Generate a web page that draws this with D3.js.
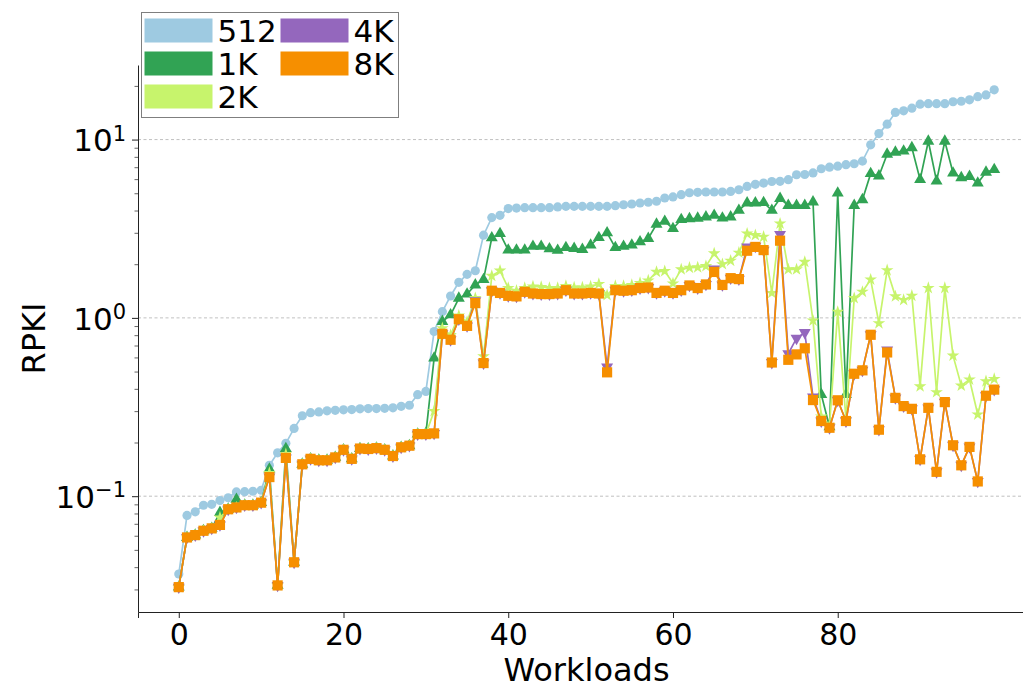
<!DOCTYPE html>
<html>
<head>
<meta charset="utf-8">
<script src="https://cdn.jsdelivr.net/npm/d3@7"></script>
<style>
  body { margin: 0; background: #fff; }
  svg text { font-family: "DejaVu Sans", sans-serif; fill: #000; }
</style>
</head>
<body>
<div id="chart"></div>
<script>
// values (RPKI per workload, log scale)
const workloads = d3.range(100);

const seriesNames = ["512", "1K", "2K", "4K", "8K"];
const seriesColors = ["#9ecae1", "#31a354", "#c7f46c", "#9467bd", "#f68f00"];

const rpki512 = [
  0.0366, 0.078, 0.0817, 0.089, 0.090, 0.0946, 0.098, 0.1057, 0.106, 0.1066,
  0.108, 0.149, 0.175, 0.198, 0.240, 0.2825, 0.294, 0.297, 0.301, 0.303,
  0.305, 0.306, 0.309, 0.310, 0.310, 0.311, 0.313, 0.319, 0.3235, 0.371,
  0.387, 0.839, 1.084, 1.327, 1.582, 1.754, 1.838, 2.91, 3.65, 3.76,
  4.10, 4.13, 4.15, 4.15, 4.15, 4.15, 4.19, 4.22, 4.22, 4.22,
  4.22, 4.22, 4.22, 4.26, 4.31, 4.35, 4.41, 4.45, 4.51, 4.70,
  4.77, 4.91, 5.03, 5.06, 5.08, 5.08, 5.08, 5.12, 5.23, 5.46,
  5.61, 5.70, 5.82, 5.83, 5.96, 6.35, 6.37, 6.50, 6.86, 7.00,
  7.09, 7.23, 7.32, 7.57, 9.34, 10.8, 12.2, 14.2, 14.5, 15.0,
  15.8, 15.9, 15.9, 15.9, 16.3, 16.4, 16.7, 17.4, 17.8, 19.0
];

const rpki1K = [
  0.0309, 0.0587, 0.0605, 0.064, 0.066, 0.081, 0.0845, 0.096, 0.089, 0.089,
  0.092, 0.142, 0.0316, 0.185, 0.0426, 0.151, 0.162, 0.159, 0.159, 0.165,
  0.182, 0.162, 0.185, 0.184, 0.186, 0.182, 0.168, 0.188, 0.192, 0.223,
  0.225, 0.595, 0.954, 1.039, 1.288, 1.36, 1.53, 1.64, 2.81, 2.97,
  2.40, 2.40, 2.40, 2.52, 2.52, 2.44, 2.39, 2.48, 2.45, 2.42,
  2.56, 2.82, 3.00, 2.48, 2.52, 2.56, 2.67, 2.79, 3.35, 3.48,
  3.17, 3.56, 3.60, 3.62, 3.68, 3.76, 3.63, 3.68, 4.01, 4.41,
  4.41, 4.43, 4.01, 4.67, 4.27, 4.27, 4.27, 4.47, 0.372, 0.245,
  5.01, 0.372, 4.27, 4.60, 6.44, 6.25, 8.28, 8.49, 8.61, 9.00,
  5.96, 9.79, 5.85, 9.79, 6.49, 6.11, 6.21, 5.70, 6.56, 6.78
];

const rpki2K = [
  0.0309, 0.0587, 0.0605, 0.064, 0.066, 0.076, 0.0845, 0.0865, 0.089, 0.089,
  0.092, 0.135, 0.0316, 0.172, 0.0426, 0.151, 0.162, 0.159, 0.159, 0.165,
  0.182, 0.162, 0.185, 0.184, 0.186, 0.182, 0.168, 0.188, 0.192, 0.223,
  0.223, 0.30, 0.875, 0.80, 1.03, 0.95, 1.29, 0.608, 1.72, 1.84,
  1.47, 1.42, 1.47, 1.50, 1.49, 1.47, 1.47, 1.51, 1.48, 1.48,
  1.50, 1.55, 1.34, 1.51, 1.51, 1.53, 1.57, 1.62, 1.81, 1.83,
  1.56, 1.87, 1.91, 1.92, 1.95, 2.30, 2.00, 2.09, 2.32, 2.97,
  2.91, 2.85, 1.38, 3.38, 1.87, 1.87, 2.06, 0.966, 0.28, 0.25,
  1.08, 0.27, 1.29, 1.40, 1.64, 0.933, 1.85, 1.32, 1.26, 1.33,
  0.413, 1.47, 0.383, 1.47, 0.614, 0.417, 0.451, 0.287, 0.441, 0.454
];

const rpki4K = [
  0.0309, 0.0587, 0.0605, 0.064, 0.066, 0.069, 0.0845, 0.0865, 0.089, 0.089,
  0.092, 0.128, 0.0316, 0.164, 0.0426, 0.151, 0.162, 0.159, 0.159, 0.165,
  0.182, 0.162, 0.185, 0.184, 0.186, 0.182, 0.168, 0.188, 0.192, 0.223,
  0.223, 0.225, 0.814, 0.754, 0.983, 0.902, 1.25, 0.558, 1.42, 1.38,
  1.33, 1.32, 1.40, 1.37, 1.36, 1.36, 1.37, 1.43, 1.37, 1.37,
  1.38, 1.37, 0.53, 1.43, 1.42, 1.43, 1.47, 1.48, 1.38, 1.42,
  1.38, 1.43, 1.52, 1.47, 1.54, 1.88, 1.53, 1.67, 1.65, 2.50,
  2.52, 2.40, 0.562, 2.94, 0.63, 0.769, 0.828, 0.36, 0.264, 0.242,
  0.345, 0.264, 0.486, 0.508, 0.804, 0.236, 0.66, 0.356, 0.320, 0.309,
  0.161, 0.313, 0.137, 0.337, 0.193, 0.149, 0.189, 0.121, 0.366, 0.396
];

const rpki8K = [
  0.0309, 0.0587, 0.0605, 0.064, 0.066, 0.069, 0.0845, 0.0865, 0.089, 0.089,
  0.092, 0.128, 0.0316, 0.164, 0.0426, 0.151, 0.162, 0.159, 0.159, 0.165,
  0.182, 0.162, 0.185, 0.184, 0.186, 0.182, 0.168, 0.188, 0.192, 0.223,
  0.223, 0.225, 0.814, 0.754, 0.983, 0.902, 1.21, 0.558, 1.42, 1.38,
  1.33, 1.32, 1.40, 1.37, 1.36, 1.36, 1.37, 1.43, 1.37, 1.37,
  1.38, 1.37, 0.495, 1.43, 1.42, 1.43, 1.47, 1.48, 1.38, 1.42,
  1.38, 1.43, 1.52, 1.47, 1.54, 1.81, 1.53, 1.67, 1.65, 2.38,
  2.50, 2.40, 0.562, 2.71, 0.582, 0.624, 0.675, 0.346, 0.264, 0.242,
  0.345, 0.264, 0.486, 0.508, 0.804, 0.236, 0.640, 0.356, 0.320, 0.309,
  0.161, 0.313, 0.137, 0.337, 0.193, 0.149, 0.189, 0.121, 0.366, 0.396
];

const xTickValues = [0, 20, 40, 60, 80];

// layout
const width = 1023;
const height = 689;
const margin = { top: 65, bottom: 77, left: 138, right: -12 };

const allSeries = [rpki512, rpki1K, rpki2K, rpki4K, rpki8K];
const markers = [
  d3.symbol().type(d3.symbolCircle).size(66),
  d3.symbol().type(d3.symbolTriangle).size(62),
  d3.symbol().type(d3.symbolStar).size(50),
  d3.symbol().type(d3.symbolTriangle).size(62),
  d3.symbol().type(d3.symbolSquare).size(104)
];

const svg = d3.select('#chart')
  .append('svg')
  .attr('width', width)
  .attr('height', height)

// matplotlib style 5% padding (log space on y)
const xPad = (d3.max(workloads) - d3.min(workloads)) * 0.05;
const x = d3.scaleLinear()
  .domain([d3.min(workloads) - xPad, d3.max(workloads) + xPad])
  .range([margin.left, width - margin.right]);

const flat = allSeries.flat();
const lo = Math.log10(d3.min(flat)), hi = Math.log10(d3.max(flat));
const yPad = (hi - lo) * 0.05;
const y = d3.scaleLog()
  .domain([Math.pow(10, lo - yPad), Math.pow(10, hi + yPad)])
  .range([height - margin.bottom, margin.top]);

const isMajor = d => Math.abs(Math.log10(d) - Math.round(Math.log10(d))) < 1e-9;
const yTicks = y.ticks();
const majorTicks = yTicks.filter(isMajor);

// grid
svg.append('g')
  .selectAll('line')
  .data(majorTicks)
  .join('line')
  .attr('x1', margin.left)
  .attr('x2', width - margin.right)
  .attr('y1', d => y(d))
  .attr('y2', d => y(d))
  .attr('stroke', '#b0b0b0')
  .attr('stroke-width', 0.8)
  .attr('stroke-dasharray', '3,2.5')

// series
allSeries.forEach((vals, s) => {
  const line = d3.line()
    .x((d, i) => x(workloads[i]))
    .y(d => y(d));
  const g = svg.append('g');
  g.append('path')
    .datum(vals)
    .attr('d', line)
    .attr('fill', 'none')
    .attr('stroke', seriesColors[s])
    .attr('stroke-width', 1.7)
  g.selectAll('path.mk')
    .data(vals)
    .join('path')
    .attr('class', 'mk')
    .attr('d', markers[s])
    .attr('transform', (d, i) => `translate(${x(workloads[i])},${y(d)})` + (s === 3 ? ' rotate(180)' : ''))
    .attr('fill', seriesColors[s])
})

// axes
function xAxis(g) {
  g.attr('transform', `translate(0, ${height - margin.bottom})`)
    .call(d3.axisBottom(x).tickValues(xTickValues).tickSize(6).tickPadding(6))
    .attr('font-size', '30px')
    .attr('font-family', 'DejaVu Sans')
  g.select('.domain').attr('stroke', '#222').attr('stroke-width', 1)
  g.selectAll('.tick line').attr('stroke', '#222')
}

function yAxis(g) {
  g.attr('transform', `translate(${margin.left}, 0)`)
    .call(d3.axisLeft(y).tickValues(yTicks).tickSize(0).tickFormat(''))
  g.select('.domain').attr('stroke', '#222').attr('stroke-width', 1)
  g.selectAll('.tick line')
    .attr('x2', d => isMajor(d) ? -6 : -3.5)
    .attr('stroke', '#222')
    .attr('stroke-width', d => isMajor(d) ? 1 : 0.7)
  const lbl = g.selectAll('.tick')
    .filter(isMajor)
    .append('text')
    .attr('x', -12)
    .attr('dy', '0.36em')
    .attr('text-anchor', 'end')
    .attr('font-size', '31px')
  lbl.append('tspan').text('10')
  lbl.append('tspan')
    .attr('dy', '-0.5em')
    .attr('font-size', '21px')
    .text(d => String(Math.round(Math.log10(d))).replace('-', '\u2212'))
}

svg.append('g').call(yAxis)
svg.append('g').call(xAxis)

// axis titles
svg.append('text')
  .attr('x', (margin.left + width - margin.right) / 2)
  .attr('y', 681)
  .attr('text-anchor', 'middle')
  .attr('font-size', '32px')
  .text('Workloads')

svg.append('text')
  .attr('transform', `translate(45, ${(margin.top + height - margin.bottom) / 2}) rotate(-90)`)
  .attr('text-anchor', 'middle')
  .attr('font-size', '32px')
  .text('RPKI')

// legend, two columns (3 rows then 2)
const legend = svg.append('g').attr('transform', 'translate(141.5, 12.5)')
legend.append('rect')
  .attr('width', 257)
  .attr('height', 105)
  .attr('fill', '#fff')
  .attr('stroke', '#7f7f7f')
  .attr('stroke-width', 1)

const items = legend.selectAll('g.item')
  .data(seriesNames)
  .join('g')
  .attr('class', 'item')
  .attr('transform', (d, i) => {
    const col = i < 3 ? 0 : 1;
    const row = i < 3 ? i : i - 3;
    return `translate(${col === 0 ? 3 : 139}, ${6 + row * 33})`;
  })

items.append('rect')
  .attr('width', 68)
  .attr('height', 24)
  .attr('fill', (d, i) => seriesColors[i])
items.append('text')
  .attr('x', 73)
  .attr('y', 23.5)
  .attr('font-size', '31px')
  .text(d => d)
</script>
</body>
</html>
